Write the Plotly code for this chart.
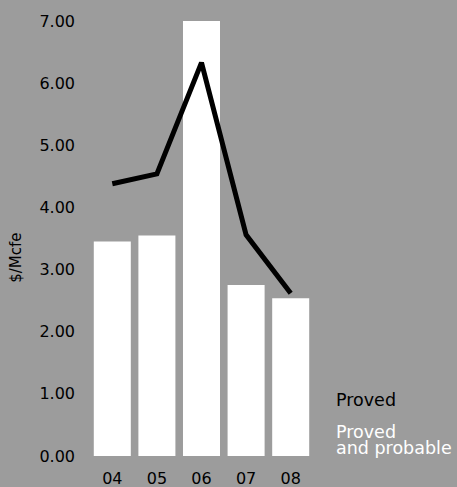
import plotly.graph_objects as go

# Finding and development cost, $/Mcfe
years = ["04", "05", "06", "07", "08"]
proved_and_probable = [3.45, 3.55, 7.00, 2.75, 2.54]
proved = [4.38, 4.54, 6.33, 3.56, 2.62]
y_ticks = [0, 1, 2, 3, 4, 5, 6, 7]
y_tick_labels = ["0.00", "1.00", "2.00", "3.00", "4.00", "5.00", "6.00", "7.00"]

BG = "#9c9c9c"
FONT = "DejaVu Sans"

W, H = 457, 487
ML, MR, MT, MB = 89.5, 143.5, 21, 31
PW, PH = W - ML - MR, H - MT - MB


def px(xp):
    return (xp - ML) / PW


def py(yp):
    return (MT + PH - yp) / PH


fig = go.Figure()
fig.add_trace(go.Bar(
    x=years, y=proved_and_probable,
    marker=dict(color="white", line=dict(width=0)),
    name="Proved and probable",
))
fig.add_trace(go.Scatter(
    x=years, y=proved, mode="lines",
    line=dict(color="black", width=5),
    name="Proved",
))

fig.update_layout(
    width=W, height=H,
    margin=dict(l=ML, r=MR, t=MT, b=MB),
    paper_bgcolor=BG, plot_bgcolor=BG,
    showlegend=False,
    bargap=0.17,
    font=dict(family=FONT, size=16, color="black"),
    xaxis=dict(
        type="category", range=[-0.5, 4.5], automargin=False,
        showgrid=False, zeroline=False, showline=False,
        ticks="", tickfont=dict(size=16, color="black"),
        ticklabelstandoff=11,
    ),
    yaxis=dict(
        range=[0, 7.0], automargin=False,
        tickvals=y_ticks, ticktext=y_tick_labels,
        showgrid=False, zeroline=False, showline=False,
        ticks="", tickfont=dict(size=16, color="black"),
        ticklabelstandoff=14,
    ),
    annotations=[
        dict(text="$/Mcfe", x=px(15), y=py(258), xref="paper", yref="paper",
             xanchor="center", yanchor="middle",
             showarrow=False, textangle=-90, font=dict(size=15, color="black")),
        dict(text="Proved", xref="paper", yref="paper", x=px(335), y=py(400),
             xanchor="left", yanchor="middle",
             showarrow=False, font=dict(size=17.5, color="black")),
        dict(text="Proved", xref="paper", yref="paper", x=px(335), y=py(432),
             xanchor="left", yanchor="middle",
             showarrow=False, font=dict(size=17.5, color="white")),
        dict(text="and probable", xref="paper", yref="paper", x=px(335), y=py(448),
             xanchor="left", yanchor="middle",
             showarrow=False, font=dict(size=17.5, color="white")),
    ],
)

fig.write_html("out.html")
